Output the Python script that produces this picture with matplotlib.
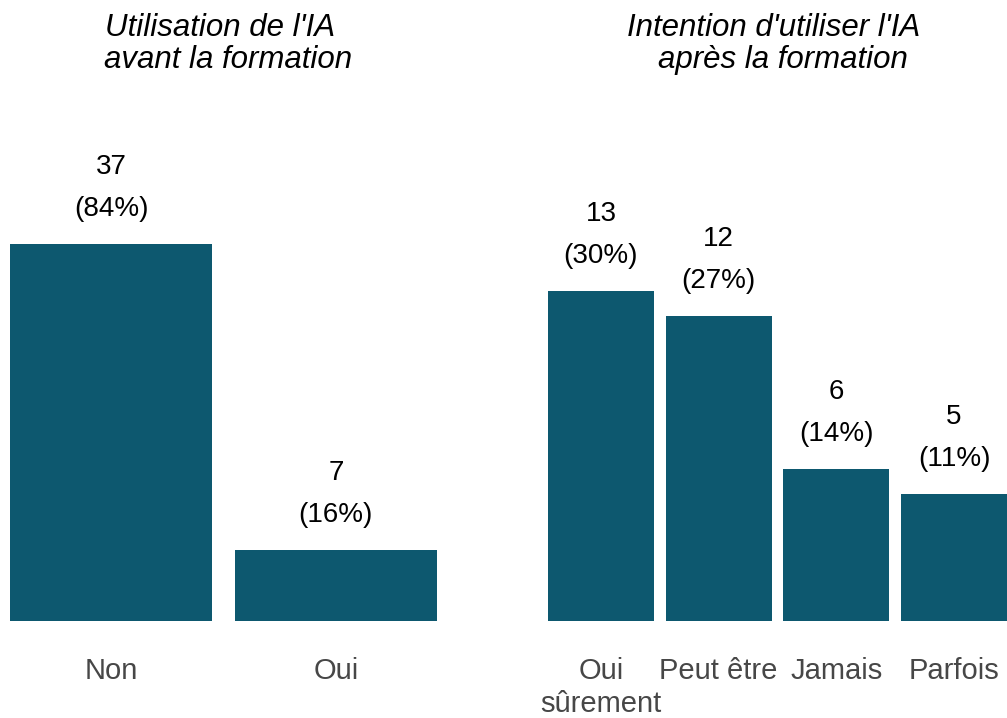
import matplotlib
matplotlib.use("Agg")
import matplotlib.pyplot as plt

plt.rcParams['font.family'] = ['Liberation Sans', 'DejaVu Sans']

# Data
left_title = ["Utilisation de l'IA", "avant la formation"]
left_cats = ["Non", "Oui"]
left_counts = [37, 7]
left_pcts = [84, 16]

right_title = ["Intention d'utiliser l'IA", "après la formation"]
right_cats = ["Oui\nsûrement", "Peut être", "Jamais", "Parfois"]
right_counts = [13, 12, 6, 5]
right_pcts = [30, 27, 14, 11]

BAR = '#0d586f'
TICK = '#474747'
W, H = 1007, 718
fig = plt.figure(figsize=(W / 100, H / 100), dpi=100)


def px_axes(x0, x1, ytop, ybot):
    return fig.add_axes([x0 / W, 1 - ybot / H, (x1 - x0) / W, (ybot - ytop) / H])


def panel(ax, cats, counts, pcts, ymax):
    x = list(range(len(cats)))
    ax.bar(x, counts, width=0.9, color=BAR)
    ax.set_xlim(-0.45, len(cats) - 0.55)
    ax.set_ylim(0, ymax)
    ax.set_xticks(x)
    ax.set_xticklabels(cats, fontsize=21, color=TICK, linespacing=1.2)
    ax.tick_params(axis='x', length=0, pad=26)
    ax.set_yticks([])
    for s in ax.spines.values():
        s.set_visible(False)
    for xi, c, p in zip(x, counts, pcts):
        ax.annotate(f"({p}%)", (xi, c), xytext=(0, 28), textcoords='offset pixels',
                    ha='center', va='baseline', fontsize=20, color='black')
        ax.annotate(f"{c}", (xi, c), xytext=(0, 70), textcoords='offset pixels',
                    ha='center', va='baseline', fontsize=20, color='black')


axL = px_axes(10, 437, 130, 621)
panel(axL, left_cats, left_counts, left_pcts, 48.2)
axR = px_axes(548, 1007, 130, 621)
panel(axR, right_cats, right_counts, right_pcts, 19.33)

for (cx, by), t in zip([(220, 36), (228.5, 68)], left_title):
    fig.text(cx / W, 1 - by / H, t, ha='center', va='baseline', fontsize=22.5,
             style='italic', color='black')
for (cx, by), t in zip([(774, 36), (782.5, 68)], right_title):
    fig.text(cx / W, 1 - by / H, t, ha='center', va='baseline', fontsize=22.5,
             style='italic', color='black')

fig.savefig("out.png", dpi=100)
